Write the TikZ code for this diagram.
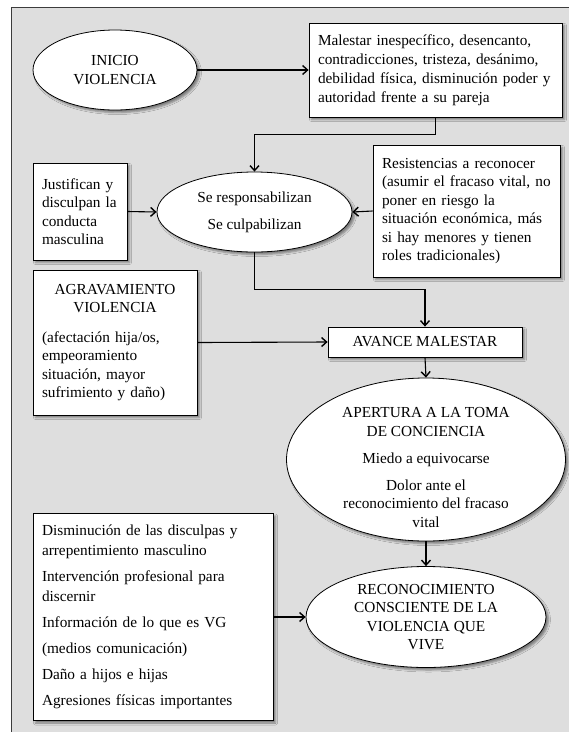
\documentclass[tikz,border=0pt]{standalone}
\usepackage{fontspec}
\setmainfont{Liberation Serif}
\usetikzlibrary{shapes.geometric,arrows.meta,shadows.blur}

\definecolor{panelgray}{RGB}{222,222,222}
\definecolor{framegray}{RGB}{60,60,60}

\tikzstyle{flowbox}=[shape=rectangle, draw, fill=white, align=left, inner xsep=9pt, inner ysep=0pt, line width=0.8pt, blur shadow={shadow xshift=2.5pt, shadow yshift=-2.5pt, shadow blur radius=2pt, shadow opacity=45}, font=\fontsize{15.3}{18.5}\selectfont]
\tikzstyle{flowoval}=[shape=ellipse, draw, fill=white, align=center, inner sep=-40pt, line width=0.8pt, blur shadow={shadow xshift=2.5pt, shadow yshift=-2.5pt, shadow blur radius=2pt, shadow opacity=45}, font=\fontsize{15.3}{18.5}\selectfont]
\tikzstyle{flowline}=[-{Straight Barb[length=5pt,width=9pt,line width=1.4pt]}, line width=1.1pt]

\begin{document}
\begin{tikzpicture}[x=1pt,y=-1pt]
        \useasboundingbox (0,0) rectangle (569,732);
        \clip (0,0) rectangle (569,732);
        \draw[framegray, fill=panelgray, line width=0.9pt] (11,7) rectangle (600,760);
        \node[flowoval, minimum width=164pt, minimum height=80pt] at (115,70) (inicio) {INICIO\\VIOLENCIA};
        \node[flowbox, minimum width=253pt, minimum height=94pt, text width=235pt, font=\fontsize{15.3}{19}\selectfont] at (435.5,70) (malestar) {Malestar inespecífico, desencanto,\\contradicciones, tristeza, desánimo,\\debilidad física, disminución poder y\\autoridad frente a su pareja};
        \node[flowbox, minimum width=94pt, minimum height=97pt, text width=76pt] at (80,211.5) (justifican) {Justifican y\\disculpan la\\conducta\\masculina};
        \node[flowoval, minimum width=195pt, minimum height=80pt] at (254.5,212) (responsab) {Se responsabilizan\\[8.5pt]Se culpabilizan};
        \node[flowbox, minimum width=187pt, minimum height=132pt, text width=169pt] at (466.5,211) (resistencias) {Resistencias a reconocer\\(asumir el fracaso vital, no\\poner en riesgo la\\situación económica, más\\si hay menores y tienen\\roles tradicionales)};
        \node[flowbox, minimum width=164pt, minimum height=145pt, text width=146pt] at (115,342.5) (agravamiento) {\centering AGRAVAMIENTO\\VIOLENCIA\par\vspace{11pt}\raggedright (afectación hija/os,\\empeoramiento\\situación, mayor\\sufrimiento y daño)};
        \node[flowbox, align=center, minimum width=194pt, minimum height=30pt] at (425,342) (avance) {AVANCE MALESTAR};
        \node[flowoval, minimum width=279pt, minimum height=163pt] at (426,459.5) (apertura) {\rule{0pt}{26pt}APERTURA A LA TOMA\\DE CONCIENCIA\\[8.5pt]Miedo a equivocarse\\[8.5pt]Dolor ante el\\reconocimiento del fracaso\\vital};
        \node[flowoval, minimum width=240pt, minimum height=101pt] at (426,617) (reconocimiento) {RECONOCIMIENTO\\CONSCIENTE DE LA\\VIOLENCIA QUE\\VIVE};
        \node[flowbox, minimum width=240pt, minimum height=207pt, text width=222pt, font=\fontsize{15.3}{20}\selectfont] at (153,617) (disminucion) {Disminución de las disculpas y\\arrepentimiento masculino\\[6pt]Intervención profesional para\\discernir\\[6pt]Información de lo que es VG\\[6pt](medios comunicación)\\[6pt]Daño a hijos e hijas\\[6pt]Agresiones físicas importantes};
        \draw [flowline] (inicio.east) -- (malestar.west);
        \draw [flowline] (malestar.south) -- ++(0,17) -| (responsab.north);
        \draw [flowline] (justifican.east) -- (responsab.west);
        \draw [flowline] (resistencias.west) -- (responsab.east);
        \draw [flowline] (responsab.south) -- ++(0,37) -| (avance.north);
        \draw [flowline] (agravamiento.east) -- (avance.west);
        \draw [flowline] (avance.south) -- (apertura.north);
        \draw [flowline] (apertura.south) -- (reconocimiento.north);
        \draw [flowline] (disminucion.east) -- (reconocimiento.west);
    \end{tikzpicture}
\end{document}
